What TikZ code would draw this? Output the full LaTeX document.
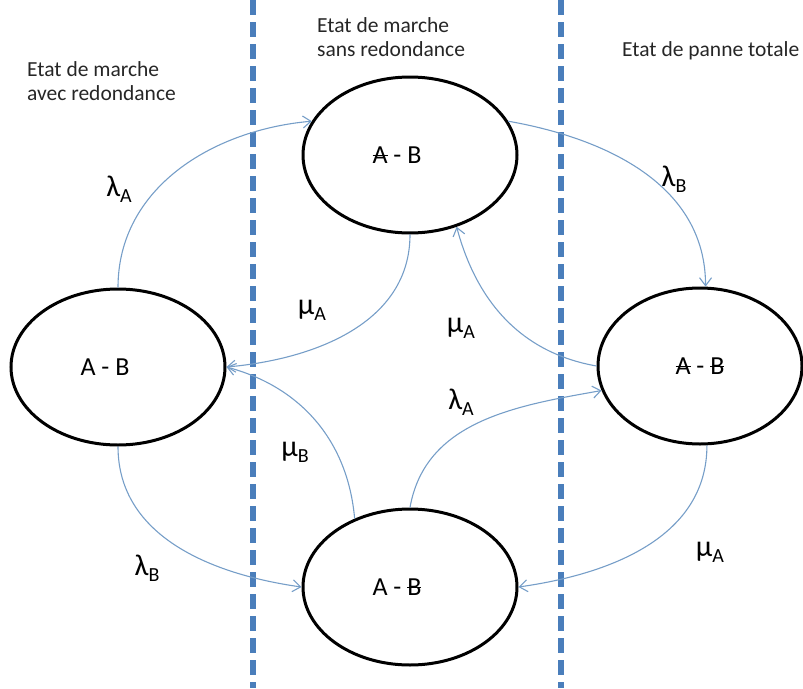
\documentclass[tikz,border=0pt]{standalone}
\usepackage{fontspec}
\setmainfont{Carlito}
\usetikzlibrary{shapes.geometric}
\usetikzlibrary{arrows.meta}
\definecolor{borderColor}{RGB}{74,126,187}
\definecolor{edgeColor}{RGB}{118,158,200}
\newcommand{\barre}[1]{\setbox0=\hbox{#1}\rlap{\copy0}\rule[0.42\ht0]{\wd0}{1.4pt}}
\newcommand{\taux}[2]{#1\raisebox{-6pt}{\fontsize{20}{20}\selectfont #2}}

\begin{document}
\begin{tikzpicture}[x=1pt, y=1pt]

          \tikzstyle{stateNode} = [draw, ellipse, line width=3pt, minimum width=214pt, minimum height=156pt, inner sep=0pt, font=\fontsize{26}{26}\selectfont];
          \tikzstyle{offText} = [execute at end node={\hspace*{26pt}}];
          \tikzstyle{rateEdge} = [edgeColor, line width=1.1pt, -{Straight Barb[length=8pt,width=12pt]}];
          \tikzstyle{rateLabel} = [inner sep=0pt, font=\fontsize{30}{30}\selectfont];
          \tikzstyle{borderLine} = [borderColor, line width=6pt, dash pattern=on 15pt off 7pt];
          \tikzstyle{titleText} = [anchor=north west, inner sep=0pt, align=left, text=black!85, font=\fontsize{21.5}{24}\selectfont];

          \useasboundingbox (0,0) rectangle (803,-688);

          \draw[borderLine] (253,0) -- (253,-688);
          \draw[borderLine] (561,0) -- (561,-688);

          \node[titleText] (tRed) at (27,-61) {Etat de marche\\avec redondance};
          \node[titleText] (tSans) at (317,-17) {Etat de marche\\sans redondance};
          \node[titleText] (tPanne) at (622,-41) {Etat de panne totale};

          \node[stateNode, offText] (ab) at (118,-367) {A - B};
          \node[stateNode, offText] (xab) at (410,-155) {\barre{A} - B};
          \node[stateNode, minimum width=204pt] (xaxb) at (700,-366) {\barre{A} - \barre{B}};
          \node[stateNode, offText] (axb) at (410,-587) {A - \barre{B}};

          \draw[rateEdge] (ab.north) to[out=90, in=185] (xab.161);
          \draw[rateEdge] (xab.south) to[out=-90, in=5] (ab.east);
          \draw[rateEdge] (xab.19) to[out=-10, in=90] (xaxb.86);
          \draw[rateEdge] (xaxb.west) to[out=170, in=-75] (xab.-57);
          \draw[rateEdge] (axb.129) to[out=95, in=-15] (ab.east);
          \draw[rateEdge] (axb.north) to[out=80, in=190] (xaxb.194);
          \draw[rateEdge] (ab.south) to[out=-90, in=172] (axb.west);
          \draw[rateEdge] (xaxb.-85) to[out=-90, in=8] (axb.east);

          \node[rateLabel] (lA1) at (119,-189) {\taux{λ}{A}};
          \node[rateLabel] (mA1) at (312,-310) {\taux{μ}{A}};
          \node[rateLabel] (lB1) at (674,-179) {\taux{λ}{B}};
          \node[rateLabel] (mA2) at (461,-328) {\taux{μ}{A}};
          \node[rateLabel] (mB1) at (295,-452) {\taux{μ}{B}};
          \node[rateLabel] (lA2) at (461,-402) {\taux{λ}{A}};
          \node[rateLabel] (lB2) at (147,-568) {\taux{λ}{B}};
          \node[rateLabel] (mA3) at (710,-552) {\taux{μ}{A}};
        \end{tikzpicture}
\end{document}
